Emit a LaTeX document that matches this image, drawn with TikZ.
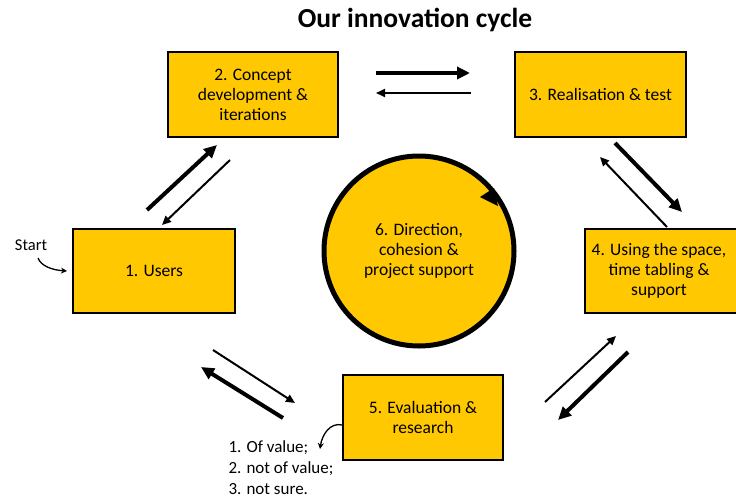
\documentclass[tikz,border=0pt]{standalone}
\usepackage{fontspec}
\setmainfont{Carlito}
\usetikzlibrary{arrows.meta}
\definecolor{gold}{HTML}{FFC800}
\begin{document}
\begin{tikzpicture}[x=1pt,y=-1pt,
  stagebox/.style={draw=black,line width=1.4pt,fill=gold,align=center,
    font=\fontsize{17.5}{20}\selectfont,inner sep=0pt},
  heavy/.style={line width=4pt,-{Triangle[length=13pt,width=12pt]}},
  light/.style={line width=2pt,-{Triangle[length=9pt,width=8pt]}},
  note/.style={font=\fontsize{17}{21.5}\selectfont,align=left}]
\useasboundingbox (0,0) rectangle (736,501);
\fill[white] (0,0) rectangle (736,501);

% title
\node[font=\fontsize{27.5}{30}\selectfont\bfseries] (title) at (415,20) {Our innovation cycle};

% stages
\node[stagebox,minimum width=170pt,minimum height=85pt] (s2) at (253,94.5)
  {2. Concept\\development \&\\iterations};
\node[stagebox,minimum width=171pt,minimum height=85pt] (s3) at (600.5,94.5)
  {3. Realisation \& test};
\node[stagebox,minimum width=162pt,minimum height=84pt] (s1) at (154,271)
  {1. Users};
\node[stagebox,minimum width=160pt,minimum height=84pt] (s4) at (665,271) {};
\node[align=center,font=\fontsize{17.5}{20}\selectfont] (s4text) at (659,271)
  {4. Using the space,\\time tabling \&\\support};
\node[stagebox,minimum width=160pt,minimum height=85pt] (s5) at (423,417.5)
  {5. Evaluation \&\\research};

% central support circle
\node[circle,draw=black,line width=5pt,fill=gold,minimum size=190pt,align=center,
  font=\fontsize{17.5}{20}\selectfont] (s6) at (419,251)
  {6. Direction,\\cohesion \&\\project support};
\fill[black] (480,197) -- (494,188) -- (498,206) -- cycle;

% flow arrows between stages
\coordinate (a23s) at (376,73);  \coordinate (a23e) at (470,73);
\coordinate (a32s) at (471,93);  \coordinate (a32e) at (376,93);
\draw[heavy] (a23s) -- (a23e);
\draw[light] (a32s) -- (a32e);

\coordinate (a12s) at (147,210); \coordinate (a12e) at (217,145);
\coordinate (a21s) at (230,160); \coordinate (a21e) at (162,225);
\draw[heavy] (a12s) -- (a12e);
\draw[light] (a21s) -- (a21e);

\coordinate (a34s) at (615,143); \coordinate (a34e) at (682,212);
\coordinate (a43s) at (667,227); \coordinate (a43e) at (600,157);
\draw[heavy] (a34s) -- (a34e);
\draw[light] (a43s) -- (a43e);

\coordinate (a54s) at (545,402); \coordinate (a54e) at (616,336);
\coordinate (a45s) at (628,352); \coordinate (a45e) at (558,420);
\draw[light] (a54s) -- (a54e);
\draw[heavy] (a45s) -- (a45e);

\coordinate (a51s) at (213,350); \coordinate (a51e) at (295,403);
\coordinate (a15s) at (283,418); \coordinate (a15e) at (201,367);
\draw[light] (a51s) -- (a51e);
\draw[heavy] (a15s) -- (a15e);

% start marker
\node[font=\fontsize{16.5}{18}\selectfont] (start) at (31,245) {Start};
\coordinate (startend) at (67,271);
\draw[line width=1.3pt,-{Stealth[length=6pt,width=6pt]}]
  (38,258) .. controls (41,266) and (52,270) .. (startend);

% outcomes of evaluation
\node[note,anchor=west] (o1) at (225,448) {1. Of value;};
\node[note,anchor=west] (o2) at (225,469) {2. not of value;};
\node[note,anchor=west] (o3) at (225,489.5) {3. not sure.};
\coordinate (outarrow) at (320,449);
\draw[line width=1.3pt,-{Stealth[length=6pt,width=6pt]}]
  (s5.west |- 0,425) .. controls (330,422) and (322,435) .. (outarrow);
\end{tikzpicture}
\end{document}
